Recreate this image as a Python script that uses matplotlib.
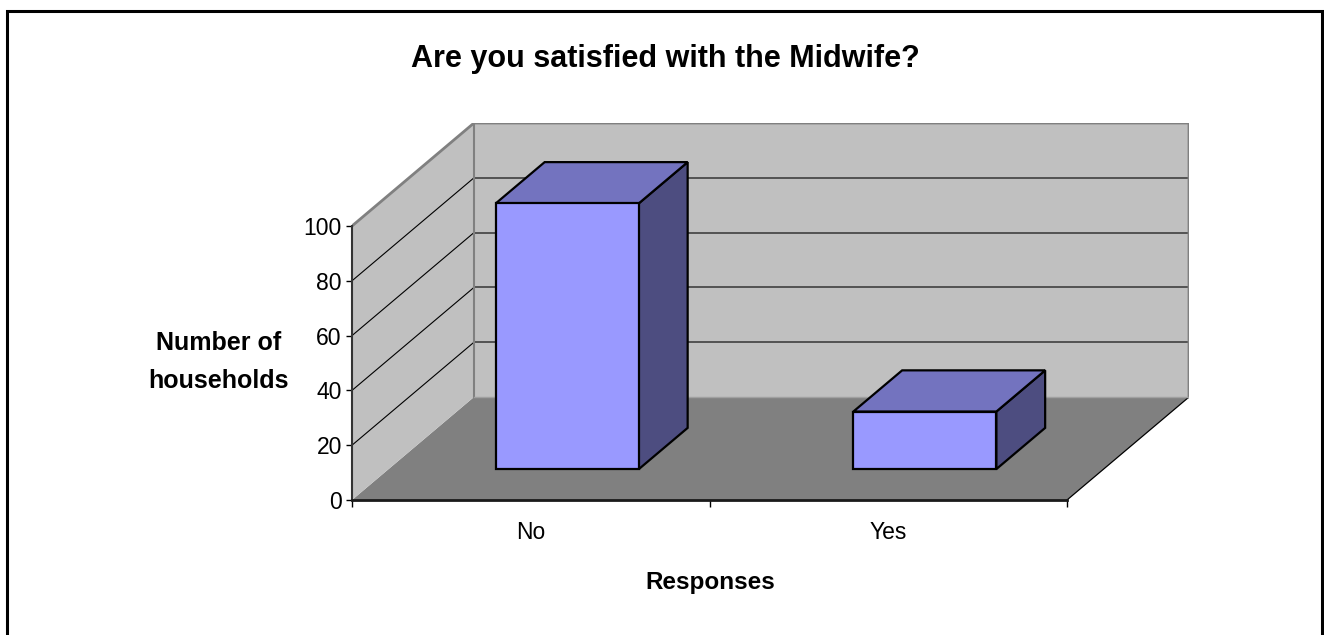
import matplotlib
matplotlib.use("Agg")
import matplotlib.pyplot as plt
from matplotlib.patches import Polygon, Rectangle

# ---- data ----
categories = ["No", "Yes"]
values = [97, 21]
y_ticks = [0, 20, 40, 60, 80, 100]
title = "Are you satisfied with the Midwife?"
y_label = "Number of\nhouseholds"
x_label = "Responses"

# ---- style constants ----
W, H = 1324, 635
DX = 122 / 357.5      # depth offset in category units
DY = 103 / 2.74       # depth offset in value units
YMAX = 100
BAR_W = 0.4
BAR_D0, BAR_D1 = 0.3, 0.7

plt.rcParams['font.family'] = ['Liberation Sans', 'DejaVu Sans']

fig = plt.figure(figsize=(W / 100, H / 100), dpi=100)
fig.patch.set_facecolor('white')

left_px, right_px, bottom_px, top_px = 352, 1189, 500, 123
ax = fig.add_axes([left_px / W, (H - bottom_px) / H,
                   (right_px - left_px) / W, (bottom_px - top_px) / H])
ncat = len(categories)
ax.set_xlim(0, ncat + DX)
ax.set_ylim(0, YMAX + DY)
ax.patch.set_visible(False)


def P(x, v, d):
    return (x + d * DX, v + d * DY)


def poly(pts, fc, ec='none', lw=0, z=1):
    ax.add_patch(Polygon(pts, closed=True, facecolor=fc, edgecolor=ec,
                         linewidth=lw, zorder=z, joinstyle='miter'))


# floor
poly([P(0, 0, 0), P(ncat, 0, 0), P(ncat, 0, 1), P(0, 0, 1)], '#808080', z=1)
ax.plot(*zip(P(ncat, 0, 0), P(ncat, 0, 1)), color='black', lw=0.9, zorder=1.2)
# side wall
poly([P(0, 0, 0), P(0, 0, 1), P(0, YMAX, 1), P(0, YMAX, 0)], '#C0C0C0', z=1)
# back wall
poly([P(0, 0, 1), P(ncat, 0, 1), P(ncat, YMAX, 1), P(0, YMAX, 1)], '#C0C0C0', z=1)
# gridlines
for v in y_ticks[1:-1]:
    ax.plot(*zip(P(0, v, 0), P(0, v, 1)), color='black', lw=0.8, zorder=1.5)
    ax.plot(*zip(P(0, v, 1), P(ncat, v, 1)), color='#404040', lw=1.2, zorder=1.5)
# wall outlines (gray)
ax.plot(*zip(P(0, YMAX, 0), P(0, YMAX, 1), P(ncat, YMAX, 1), P(ncat, 0, 1)),
        color='#808080', lw=2.0, zorder=1.6, solid_joinstyle='miter')
ax.plot(*zip(P(0, 0, 1), P(0, YMAX, 1)), color='#808080', lw=1.5, zorder=1.6)
ax.plot(*zip(P(0, 0, 1), P(ncat, 0, 1)), color='#A0A0A0', lw=1.0, zorder=1.6)

# bars
for i, v in enumerate(values):
    x0 = i + (1 - BAR_W) / 2
    x1 = x0 + BAR_W
    front = [P(x0, 0, BAR_D0), P(x1, 0, BAR_D0), P(x1, v, BAR_D0), P(x0, v, BAR_D0)]
    top = [P(x0, v, BAR_D0), P(x1, v, BAR_D0), P(x1, v, BAR_D1), P(x0, v, BAR_D1)]
    side = [P(x1, 0, BAR_D0), P(x1, 0, BAR_D1), P(x1, v, BAR_D1), P(x1, v, BAR_D0)]
    poly(side, '#4D4D80', 'black', 1.6, z=3)
    poly(top, '#7373BF', 'black', 1.6, z=3)
    poly(front, '#9999FF', 'black', 1.6, z=3.1)

# axes / ticks
for s in ['top', 'right']:
    ax.spines[s].set_visible(False)
ax.spines['left'].set_bounds(0, YMAX)
ax.spines['left'].set_color('#333333')
ax.spines['left'].set_linewidth(1.5)
ax.spines['bottom'].set_bounds(0, ncat)
ax.spines['bottom'].set_color('#1a1a1a')
ax.spines['bottom'].set_linewidth(2.0)
ax.spines['left'].set_zorder(2)
ax.spines['bottom'].set_zorder(2)

ax.set_yticks(y_ticks)
ax.set_yticklabels([str(t) for t in y_ticks])
ax.tick_params(axis='y', direction='out', length=4.3, width=1, pad=3,
               labelsize=16.5, colors='black')
ax.set_xticks(list(range(ncat + 1)))
ax.set_xticklabels([''] * (ncat + 1))
ax.tick_params(axis='x', which='major', direction='out', length=5, width=1)
ax.set_xticks([i + 0.5 for i in range(ncat)], minor=True)
ax.set_xticklabels(categories, minor=True)
ax.tick_params(axis='x', which='minor', length=0, pad=15, labelsize=16.5)

# texts
fig.text(665 / W, 1 - 67.3 / H, title, ha='center', va='baseline',
         fontsize=22, fontweight='bold')
fig.text(219 / W, 1 - 362 / H, y_label, ha='center', va='center',
         fontsize=18, fontweight='bold', linespacing=1.75)
fig.text(710 / W, 1 - 582 / H, x_label, ha='center', va='center',
         fontsize=17.5, fontweight='bold')

# outer border
fig.patches.append(Rectangle((7 / W, -10 / H), (1322 - 7) / W, (H - 11 + 10) / H,
                             transform=fig.transFigure, fill=False,
                             edgecolor='black', linewidth=2.2, zorder=10))

fig.savefig('out.png', dpi=100)
